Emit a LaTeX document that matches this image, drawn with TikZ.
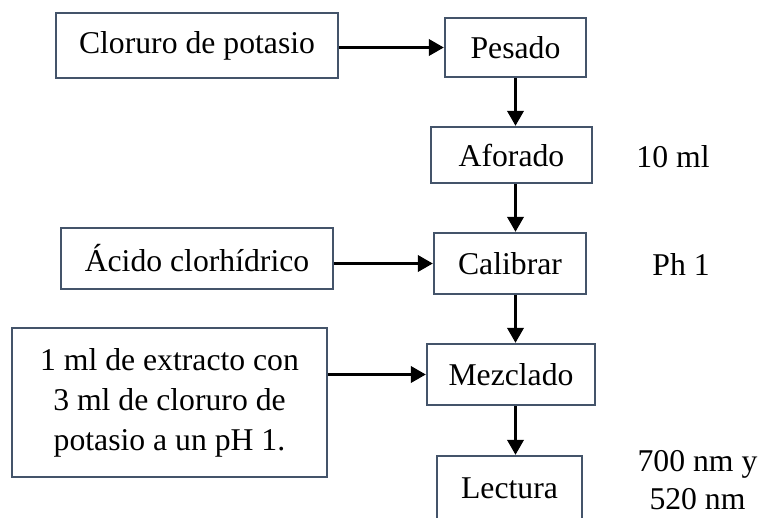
\documentclass[tikz,border=0pt]{standalone}
\usepackage{fontspec}
\setmainfont{Liberation Serif}
\usetikzlibrary{arrows.meta}

\definecolor{boxline}{HTML}{44546A}

\tikzset{
    paso/.style={draw=boxline, line width=2.2pt, inner sep=0pt, align=center},
    flecha/.style={line width=3.4pt, -{Triangle[length=15pt,width=16pt]}},
    nota/.style={inner sep=0pt, align=center}
}

\begin{document}
\begin{tikzpicture}[x=1pt, y=1pt, font=\fontsize{31.7}{40}\selectfont]
                \useasboundingbox (0,0) rectangle (760,-517);
                % columna izquierda
                \node[paso, minimum width=282pt, minimum height=65pt] (cloruro) at (197,-45.5) {Cloruro de potasio};
                \node[paso, minimum width=272pt, minimum height=61pt] (acido) at (197,-258.5) {Ácido clorhídrico};
                \node[paso, minimum width=315pt, minimum height=149pt] (extracto) at (169.5,-402.5) {
                    1 ml de extracto con\\
                    3 ml de cloruro de\\
                    potasio a un pH 1.
                };
                % columna derecha
                \node[paso, minimum width=141pt, minimum height=59pt] (pesado) at (515.5,-47.5) {Pesado};
                \node[paso, minimum width=161pt, minimum height=56pt] (aforado) at (511.5,-155) {Aforado};
                \node[paso, minimum width=152pt, minimum height=61pt] (calibrar) at (510,-263.5) {Calibrar};
                \node[paso, minimum width=168pt, minimum height=61pt] (mezclado) at (511,-374.5) {Mezclado};
                \node[paso, minimum width=145pt, minimum height=64pt] (lectura) at (509.5,-488) {Lectura};
                % notas
                \node[nota] (ml) at (673,-157) {10 ml};
                \node[nota] (ph) at (681,-264) {Ph 1};
                \node[nota, font=\fontsize{31.7}{38}\selectfont] (nm) at (697.5,-480) {700 nm y\\520 nm};
                % flechas
                \draw[flecha] (cloruro.east |- pesado) -- (pesado.west);
                \draw[flecha] (acido.east |- calibrar) -- (calibrar.west);
                \draw[flecha] (extracto.east |- mezclado) -- (mezclado.west);
                \draw[flecha] (pesado.south) -- (aforado.north -| pesado);
                \draw[flecha] (aforado.south -| pesado) -- (calibrar.north -| pesado);
                \draw[flecha] (calibrar.south -| pesado) -- (mezclado.north -| pesado);
                \draw[flecha] (mezclado.south -| pesado) -- (lectura.north -| pesado);
\end{tikzpicture}
\end{document}
